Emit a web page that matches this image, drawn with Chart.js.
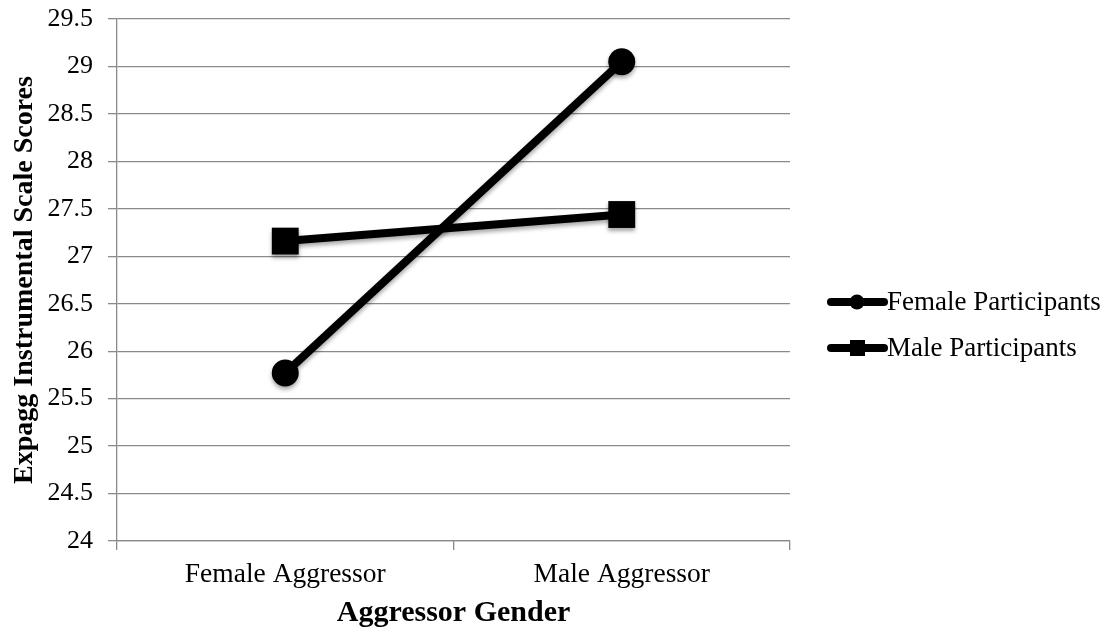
<!DOCTYPE html>
<html>
<head>
<meta charset="utf-8">
<script src="https://cdn.jsdelivr.net/npm/chart.js@4"></script>
<style>
  html, body { margin: 0; padding: 0; background: #fff; }
  #wrap { width: 1109px; height: 632px; }
</style>
</head>
<body>
<div id="wrap"><canvas id="myChart"></canvas></div>
<script>
// datos de la grafica
var categorias = ['Female Aggressor', 'Male Aggressor'];
var femaleParticipants = [25.77, 29.05];
var maleParticipants = [27.16, 27.44];
var yTicks = [24, 24.5, 25, 25.5, 26, 26.5, 27, 27.5, 28, 28.5, 29, 29.5];

var fuente = "'Liberation Serif', 'Times New Roman', serif";
var gris = '#8a8a8a';

/* sombra suave debajo de lineas y marcadores */
const sombra = {
    id: 'sombra',
    beforeDatasetsDraw(chart) {
        const ctx = chart.ctx;
        ctx.save();
        ctx.shadowColor = 'rgba(0,0,0,0.35)';
        ctx.shadowBlur = 4;
        ctx.shadowOffsetY = 3;
    },
    afterDatasetsDraw(chart) {
        chart.ctx.restore();
    }
};

/* leyenda a la derecha, linea con marcador como en Excel */
const leyenda = {
    id: 'leyenda',
    afterDraw(chart) {
        const ctx = chart.ctx;
        const items = [
            { y: 302, ds: chart.data.datasets[0] },
            { y: 348, ds: chart.data.datasets[1] }
        ];
        ctx.save();
        items.forEach(function(it) {
            ctx.strokeStyle = '#000';
            ctx.lineWidth = 8;
            ctx.lineCap = 'round';
            ctx.beginPath();
            ctx.moveTo(831, it.y);
            ctx.lineTo(884, it.y);
            ctx.stroke();
            ctx.fillStyle = '#000';
            if (it.ds.pointStyle === 'circle') {
                ctx.beginPath();
                ctx.arc(857, it.y, 7.5, 0, Math.PI * 2);
                ctx.fill();
            } else {
                ctx.fillRect(850, it.y - 8, 15, 16);
            }
            ctx.font = '27px ' + fuente;
            ctx.textAlign = 'left';
            ctx.textBaseline = 'middle';
            ctx.fillText(it.ds.label, 887, it.y + 1);
        });
        ctx.restore();
    }
};

const ctx = document.getElementById('myChart');
new Chart(ctx, {
    type: 'line',
    data: {
        labels: categorias,
        datasets: [{
            label: 'Female Participants',
            data: femaleParticipants,
            borderColor: '#000',
            backgroundColor: '#000',
            borderWidth: 8,
            pointStyle: 'circle',
            pointRadius: 13.5,
            pointBorderWidth: 0,
            pointBackgroundColor: '#000'
        },
        {
            label: 'Male Participants',
            data: maleParticipants,
            borderColor: '#000',
            backgroundColor: '#000',
            borderWidth: 8,
            pointStyle: 'rect',
            pointRadius: 19,
            pointBorderWidth: 0,
            pointBackgroundColor: '#000'
        }]
    },
    options: {
        responsive: true,
        maintainAspectRatio: false,
        animation: false,
        layout: { padding: { left: 0, right: 319, top: 18, bottom: 0 } },
        plugins: {
            legend: { display: false },
            tooltip: { enabled: false }
        },
        scales: {
            x: {
                offset: true,
                grid: {
                    offset: true,
                    drawOnChartArea: false,
                    drawTicks: true,
                    tickLength: 9,
                    color: gris,
                    lineWidth: 1.3
                },
                border: { color: gris, width: 1.3 },
                ticks: {
                    color: '#000',
                    padding: 8,
                    maxRotation: 0,
                    font: { family: fuente, size: 27.5 }
                },
                title: {
                    display: true,
                    text: 'Aggressor Gender',
                    color: '#000',
                    padding: { top: 0, bottom: 1 },
                    font: { family: fuente, size: 30, weight: 'bold' }
                },
                afterFit: function(scale) {
                    scale.height = 91;
                    scale.paddingLeft = 0;
                    scale.paddingRight = 0;
                }
            },
            y: {
                min: 24,
                max: 29.5,
                afterBuildTicks: function(scale) {
                    scale.ticks = yTicks.map(function(v) { return { value: v }; });
                },
                grid: {
                    color: gris,
                    lineWidth: 1.3,
                    tickLength: 9
                },
                border: { color: gris, width: 1.3 },
                ticks: {
                    color: '#000',
                    padding: 15,
                    font: { family: fuente, size: 26 },
                    callback: function(value) { return String(value); }
                },
                title: {
                    display: true,
                    text: 'Expagg Instrumental Scale Scores',
                    color: '#000',
                    padding: { top: 8, bottom: 0 },
                    font: { family: fuente, size: 28, weight: 'bold' }
                },
                afterFit: function(scale) {
                    scale.width = 117;
                    scale.paddingTop = 0;
                    scale.paddingBottom = 0;
                }
            }
        }
    },
    plugins: [sombra, leyenda]
});
</script>
</body>
</html>
